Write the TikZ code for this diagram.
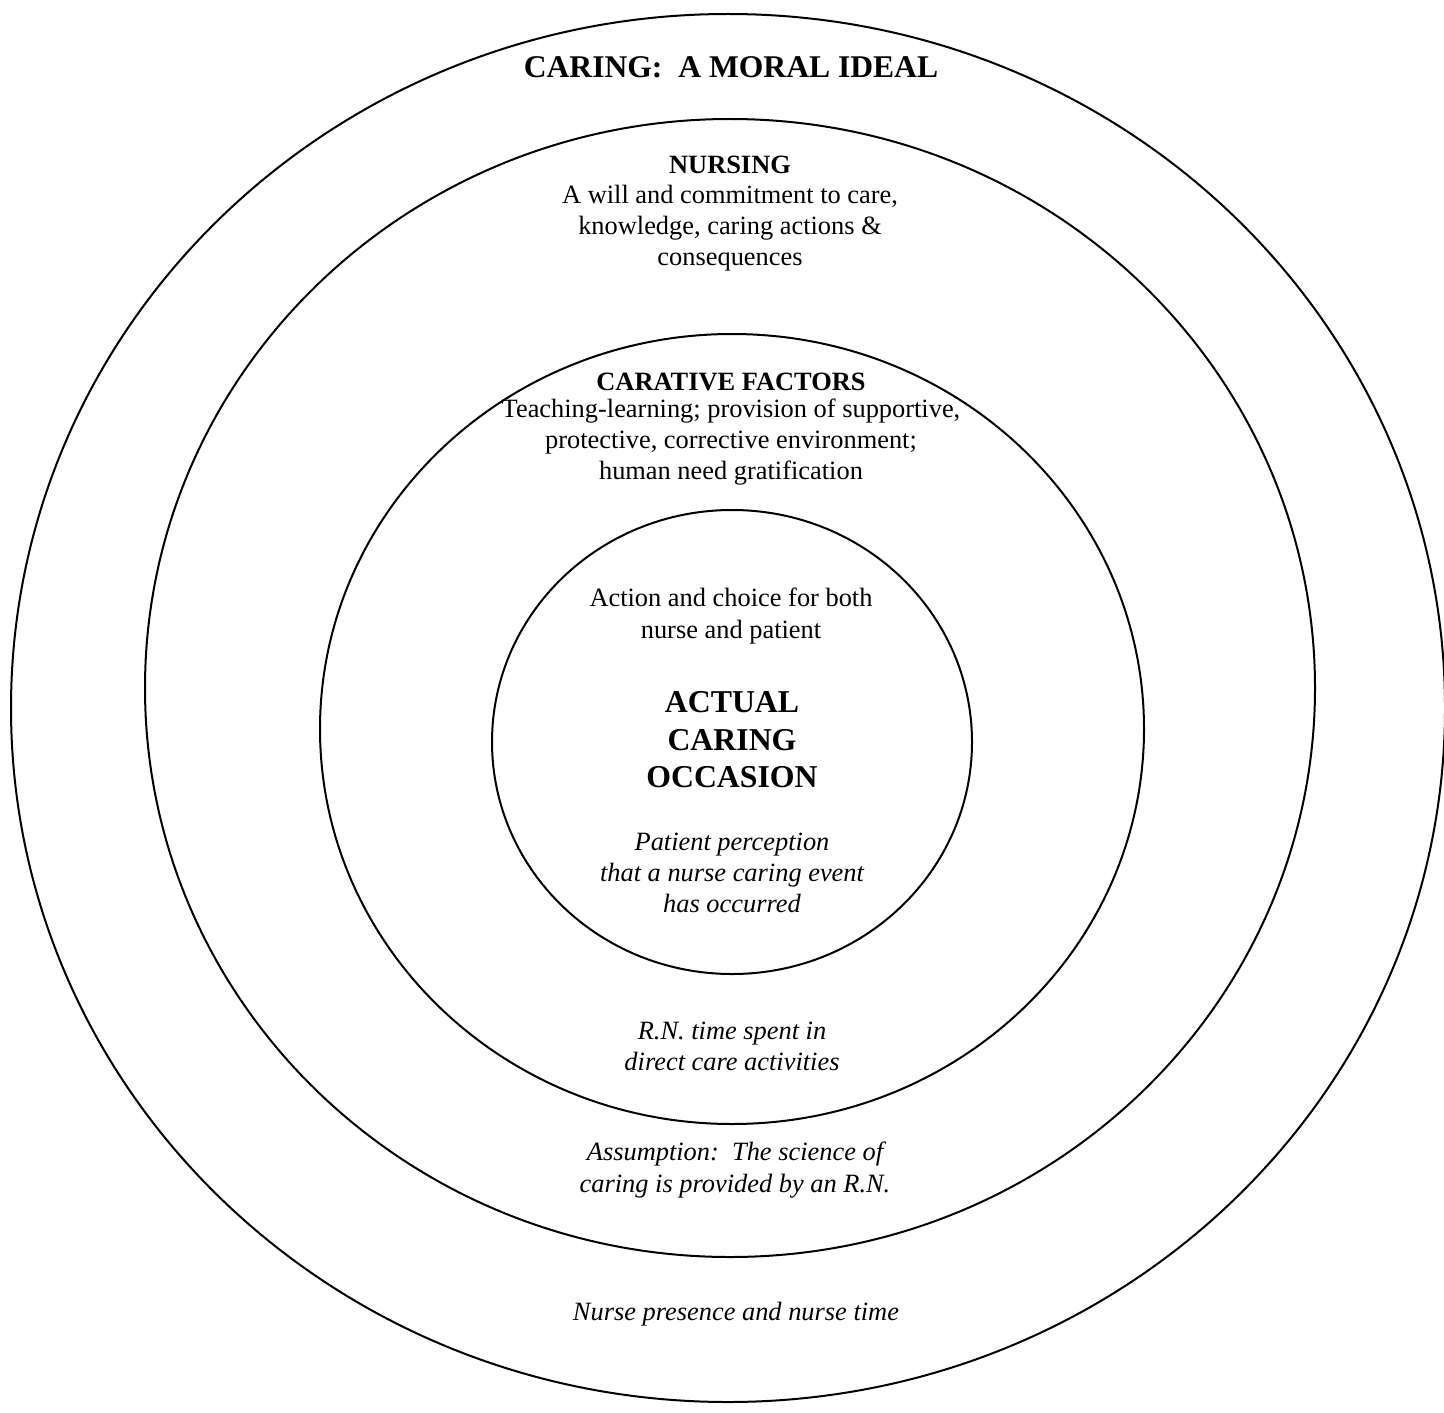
\documentclass[tikz,border=0pt]{standalone}
\usepackage{fontspec}
\setmainfont{Liberation Serif}
\usetikzlibrary{shapes.geometric}
\begin{document}
\begin{tikzpicture}[x=0.5pt,y=-0.5pt,
  ring/.style={draw=black, line width=1pt, ellipse, inner sep=0pt, fill=none},
  title/.style={font=\bfseries\fontsize{15.8}{19}\selectfont, align=center},
  head/.style={font=\bfseries\fontsize{13.2}{15.6}\selectfont, align=center},
  body/.style={font=\fontsize{13.2}{15.6}\selectfont, align=center},
  itbody/.style={font=\itshape\fontsize{13.2}{15.6}\selectfont, align=center},
  big/.style={font=\bfseries\fontsize{15.9}{18.8}\selectfont, align=center}]
\useasboundingbox[fill=white] (0,0) rectangle (1444,1412);
% rings
\node[ring, minimum width=717pt, minimum height=694pt] (ring1) at (728,708) {};
\node[ring, minimum width=585pt, minimum height=569pt] (ring2) at (730,688) {};
\node[ring, minimum width=412pt, minimum height=395pt] (ring3) at (732,729) {};
\node[ring, minimum width=240pt, minimum height=232pt] (ring4) at (732,742) {};
% texts
\node[title] (t1) at (731,67) {CARING:\ \ A MORAL IDEAL};
\node[head] (n1) at (730,165) {NURSING};
\node[body] (n2) at (730,228) {A will and commitment to care,\\knowledge, caring actions \&\\consequences};
\node[head] (c1) at (731,382) {CARATIVE FACTORS};
\node[body] (c2) at (731,442) {Teaching-learning; provision of supportive,\\protective, corrective environment;\\human need gratification};
\node[body] (a1) at (731,616) {Action and choice for both\\nurse and patient};
\node[big] (a2) at (732,740) {ACTUAL\\CARING\\OCCASION};
\node[itbody] (a3) at (732,873) {Patient perception\\that a nurse caring event\\has occurred};
\node[itbody] (r1) at (732,1046) {R.N. time spent in\\direct care activities};
\node[itbody] (s1) at (735,1170) {Assumption:\ \ The science of\\caring is provided by an R.N.};
\node[itbody] (p1) at (736,1314) {Nurse presence and nurse time};
\end{tikzpicture}
\end{document}
